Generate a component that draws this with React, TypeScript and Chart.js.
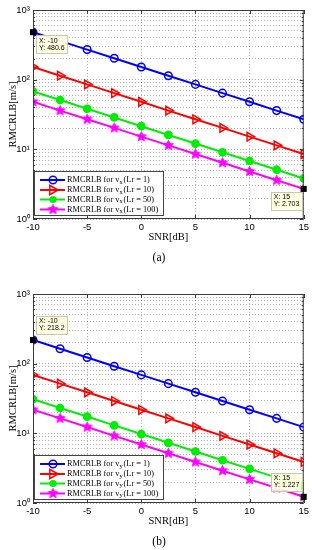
import React, { useEffect, useRef } from 'react';
import { Chart, registerables } from 'chart.js';
Chart.register(...registerables);

// ---------- data ----------
const snr = [-10, -7.5, -5, -2.5, 0, 2.5, 5, 7.5, 10, 12.5, 15];
const xTicks = [-10, -5, 0, 5, 10, 15];
const yDecades = [1, 10, 100, 1000];
const lrValues = ['1', '10', '50', '100'];

// (a) v_x
const vxLr1 = [480.6, 360.4, 270.3, 202.7, 152.0, 114.0, 85.5, 64.1, 48.1, 36.0, 27.0];
const vxLr10 = [152.0, 114.0, 85.5, 64.1, 48.1, 36.0, 27.0, 20.3, 15.2, 11.4, 8.55];
const vxLr50 = [68.0, 51.0, 38.2, 28.7, 21.5, 16.1, 12.1, 9.07, 6.8, 5.1, 3.82];
const vxLr100 = [48.1, 36.0, 27.0, 20.3, 15.2, 11.4, 8.55, 6.41, 4.81, 3.6, 2.703];

// (b) v_y
const vyLr1 = [218.2, 163.6, 122.7, 92.0, 69.0, 51.7, 38.8, 29.1, 21.8, 16.4, 12.27];
const vyLr10 = [69.0, 51.7, 38.8, 29.1, 21.8, 16.4, 12.3, 9.2, 6.9, 5.17, 3.88];
const vyLr50 = [30.9, 23.1, 17.4, 13.0, 9.76, 7.31, 5.49, 4.11, 3.09, 2.31, 1.74];
const vyLr100 = [21.8, 16.4, 12.3, 9.2, 6.9, 5.17, 3.88, 2.91, 2.18, 1.64, 1.227];

// datatips
const tipsA = [
  { x: -10, y: 480.6, lx: 'X: -10', ly: 'Y: 480.6', side: 'right-below' },
  { x: 15, y: 2.703, lx: 'X: 15', ly: 'Y: 2.703', side: 'left-below' },
];
const tipsB = [
  { x: -10, y: 218.2, lx: 'X: -10', ly: 'Y: 218.2', side: 'right-above' },
  { x: 15, y: 1.227, lx: 'X: 15', ly: 'Y: 1.227', side: 'left-above' },
];

// ---------- styles ----------
const COLORS = ['#0000ff', '#ff0000', '#00ee00', '#ff00ff'];
const KINDS = ['circle', 'tri', 'dot', 'star'];
const SUPS: Record<number, string> = { 0: '⁰', 1: '¹', 2: '²', 3: '³' };
const SERIF = '"Liberation Serif", "Times New Roman", serif';
const SANS = '"Liberation Sans", Arial, sans-serif';

function makeStar(color: string, r: number) {
  const c = document.createElement('canvas');
  const s = Math.ceil(r * 2 + 2);
  c.width = s;
  c.height = s;
  const g = c.getContext('2d')!;
  g.fillStyle = color;
  g.strokeStyle = color;
  g.lineWidth = 1;
  g.beginPath();
  for (let i = 0; i < 10; i++) {
    const ang = -Math.PI / 2 + (i * Math.PI) / 5;
    const rr = i % 2 === 0 ? r : r * 0.45;
    g.lineTo(s / 2 + rr * Math.cos(ang), s / 2 + rr * Math.sin(ang));
  }
  g.closePath();
  g.fill();
  g.stroke();
  return c;
}

function drawMarker(ctx: CanvasRenderingContext2D, kind: string, x: number, y: number, color: string, star: HTMLCanvasElement) {
  ctx.save();
  ctx.strokeStyle = color;
  ctx.fillStyle = color;
  ctx.lineWidth = 1.5;
  if (kind === 'circle') {
    ctx.beginPath();
    ctx.arc(x, y, 3.8, 0, Math.PI * 2);
    ctx.stroke();
  } else if (kind === 'tri') {
    ctx.beginPath();
    ctx.moveTo(x + 5, y);
    ctx.lineTo(x - 3.2, y - 4.6);
    ctx.lineTo(x - 3.2, y + 4.6);
    ctx.closePath();
    ctx.stroke();
  } else if (kind === 'dot') {
    ctx.beginPath();
    ctx.arc(x, y, 3.6, 0, Math.PI * 2);
    ctx.fill();
  } else {
    ctx.drawImage(star, x - star.width / 2, y - star.height / 2);
  }
  ctx.restore();
}

type PanelProps = {
  top: number;
  series: number[][];
  sub: string;
  tips: typeof tipsA;
  caption: string;
  padTop: number;
};

const CW = 312;
const CH = 275;

function Panel({ top, series, sub, tips, caption, padTop }: PanelProps) {
  const ref = useRef<HTMLCanvasElement>(null);
  useEffect(() => {
    const canvas = ref.current!;
    const star = makeStar(COLORS[3], 5.2);
    const areaBottom = padTop + 209;
    const xH = CH - areaBottom;

    const extras = {
      id: 'extras',
      afterDraw(chart: any) {
        const ctx: CanvasRenderingContext2D = chart.ctx;
        const a = chart.chartArea;
        const xs = chart.scales.x;
        const ys = chart.scales.y;
        ctx.save();
        // frame
        ctx.strokeStyle = '#3a3a3a';
        ctx.lineWidth = 1;
        ctx.strokeRect(a.left + 0.5, a.top + 0.5, a.right - a.left - 1, a.bottom - a.top - 1);
        // inward ticks
        ctx.beginPath();
        xTicks.forEach((v) => {
          const px = Math.round(xs.getPixelForValue(v)) + 0.5;
          ctx.moveTo(px, a.bottom);
          ctx.lineTo(px, a.bottom - 4);
          ctx.moveTo(px, a.top);
          ctx.lineTo(px, a.top + 4);
        });
        ys.ticks.forEach((t: any) => {
          const py = Math.round(ys.getPixelForValue(t.value)) + 0.5;
          const isDec = yDecades.includes(t.value);
          const len = isDec ? 4 : 2;
          ctx.moveTo(a.left, py);
          ctx.lineTo(a.left + len, py);
          ctx.moveTo(a.right, py);
          ctx.lineTo(a.right - len, py);
        });
        ctx.stroke();

        // axis titles
        ctx.fillStyle = '#000';
        ctx.font = `10.5px ${SERIF}`;
        ctx.textAlign = 'center';
        ctx.textBaseline = 'middle';
        ctx.fillText('SNR[dB]', (a.left + a.right) / 2, a.bottom + 18.5);
        ctx.font = `11.5px ${SERIF}`;
        ctx.fillText(caption, 159, a.bottom + 39);
        ctx.font = `10.5px ${SERIF}`;
        ctx.save();
        ctx.translate(13, (a.top + a.bottom) / 2);
        ctx.rotate(-Math.PI / 2);
        ctx.fillText('RMCRLB[m/s]', 0, 0);
        ctx.restore();

        // legend
        const lx = a.left + 1;
        const ly = a.bottom - 48;
        ctx.fillStyle = '#fff';
        ctx.fillRect(lx, ly, 129, 44);
        ctx.strokeStyle = '#444';
        ctx.lineWidth = 1;
        ctx.strokeRect(lx + 0.5, ly + 0.5, 129, 44);
        const rows = [-39, -29, -19.5, -9.5];
        rows.forEach((dy, i) => {
          const y = a.bottom + dy;
          ctx.strokeStyle = COLORS[i];
          ctx.lineWidth = 2;
          ctx.beginPath();
          ctx.moveTo(a.left + 7, y);
          ctx.lineTo(a.left + 32, y);
          ctx.stroke();
          drawMarker(ctx, KINDS[i], a.left + 20, y, COLORS[i], star);
          ctx.fillStyle = '#000';
          ctx.textAlign = 'left';
          ctx.textBaseline = 'middle';
          ctx.save();
          ctx.translate(a.left + 34, y);
          ctx.scale(0.92, 1);
          let tx = 0;
          ctx.font = `9px ${SERIF}`;
          const p1 = 'RMCRLB for v';
          ctx.fillText(p1, tx, 0);
          tx += ctx.measureText(p1).width;
          ctx.font = `7px ${SERIF}`;
          ctx.fillText(sub, tx, 2);
          tx += ctx.measureText(sub).width + 1;
          ctx.font = `9px ${SERIF}`;
          ctx.fillText('(Lr = ' + lrValues[i] + ')', tx, 0);
          ctx.restore();
        });

        // datatips
        tips.forEach((t) => {
          const px = xs.getPixelForValue(t.x);
          const py = ys.getPixelForValue(t.y);
          ctx.fillStyle = '#000';
          ctx.fillRect(px - 3, py - 3, 6, 6);
          const bw = 31;
          const bh = 18;
          const bx = t.side.startsWith('right') ? px + 3 : px - bw - 2;
          const by = t.side.endsWith('below') ? py + 3 : py - bh - 6;
          ctx.fillStyle = 'rgba(255,255,222,0.95)';
          ctx.fillRect(bx, by, bw, bh);
          ctx.strokeStyle = '#c8c8b0';
          ctx.lineWidth = 1;
          ctx.strokeRect(Math.round(bx) + 0.5, Math.round(by) + 0.5, bw, bh);
          ctx.fillStyle = '#000';
          ctx.font = `7px ${SANS}`;
          ctx.textAlign = 'left';
          ctx.textBaseline = 'middle';
          ctx.fillText(t.lx, bx + 3, by + 5.5);
          ctx.fillText(t.ly, bx + 3, by + 12.5);
        });
        ctx.restore();
      },
    };

    const datasets = series.map((s, i) => ({
      data: snr.map((x, j) => ({ x, y: s[j] })),
      borderColor: COLORS[i],
      borderWidth: 2,
      backgroundColor: KINDS[i] === 'dot' ? COLORS[i] : 'rgba(0,0,0,0)',
      pointBackgroundColor: KINDS[i] === 'dot' ? COLORS[i] : 'rgba(0,0,0,0)',
      pointBorderColor: COLORS[i],
      pointBorderWidth: 1.5,
      pointRadius: KINDS[i] === 'tri' ? 5 : KINDS[i] === 'circle' ? 3.8 : 3.6,
      pointStyle: KINDS[i] === 'tri' ? 'triangle' : KINDS[i] === 'star' ? star : 'circle',
      pointRotation: KINDS[i] === 'tri' ? 90 : 0,
      tension: 0,
      fill: false,
    }));

    const chart = new Chart(canvas, {
      type: 'line',
      data: { datasets } as any,
      options: {
        animation: false,
        responsive: false,
        maintainAspectRatio: false,
        layout: { padding: { top: padTop, left: 0, right: 8, bottom: 0 } },
        plugins: { legend: { display: false }, tooltip: { enabled: false } },
        scales: {
          x: {
            type: 'linear',
            min: -10,
            max: 15,
            afterBuildTicks: (s: any) => {
              s.ticks = xTicks.map((v) => ({ value: v }));
            },
            afterFit: (s: any) => {
              s.height = xH;
            },
            ticks: {
              autoSkip: false,
              maxRotation: 0,
              padding: 3,
              color: '#000',
              font: { family: SANS, size: 9.5 },
            },
            grid: { color: 'rgba(0,0,0,0.3)', drawTicks: false, lineWidth: 1 },
            border: { display: false, dash: [1, 2] },
          },
          y: {
            type: 'logarithmic',
            min: 1,
            max: 1000,
            afterBuildTicks: (s: any) => {
              const t: any[] = [];
              for (let e = 0; e < 3; e++) {
                for (let m = 1; m < 10; m++) t.push({ value: m * Math.pow(10, e) });
              }
              t.push({ value: 1000 });
              s.ticks = t;
            },
            afterFit: (s: any) => {
              s.width = 33;
            },
            ticks: {
              autoSkip: false,
              padding: 3,
              color: '#000',
              font: { family: SANS, size: 9.5 },
              callback: (v: any) => {
                const e = Math.log10(Number(v));
                if (Math.abs(e - Math.round(e)) < 1e-9) return '10' + SUPS[Math.round(e)];
                return '';
              },
            },
            grid: { color: 'rgba(0,0,0,0.3)', drawTicks: false, lineWidth: 1 },
            border: { display: false, dash: [1, 2] },
          },
        },
      } as any,
      plugins: [extras],
    });
    return () => chart.destroy();
  }, []);

  return (
    <canvas
      ref={ref}
      width={CW}
      height={CH}
      style={{ position: 'absolute', left: 0, top, width: CW, height: CH }}
    />
  );
}

export default function App() {
  return (
    <div style={{ position: 'absolute', left: 0, top: 0, width: CW, height: 550, background: '#fff' }}>
      <Panel top={0} padTop={10} series={[vxLr1, vxLr10, vxLr50, vxLr100]} sub="x" tips={tipsA} caption="(a)" />
      <Panel top={275} padTop={19} series={[vyLr1, vyLr10, vyLr50, vyLr100]} sub="y" tips={tipsB} caption="(b)" />
    </div>
  );
}
